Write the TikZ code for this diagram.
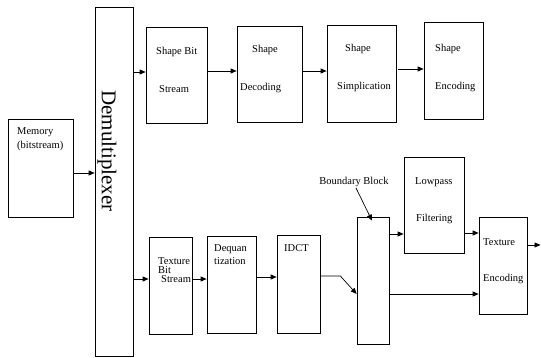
\documentclass[tikz,border=0pt]{standalone}
\usepackage{fontspec}
\setmainfont{Liberation Serif}
\usetikzlibrary{arrows.meta}
\begin{document}
\begin{tikzpicture}[x=1pt,y=-1pt,
  box/.style={draw=black,line width=0.7pt,inner sep=0pt,minimum width=#1},
  lbl/.style={inner sep=0pt,anchor=west,font=\fontsize{10.5}{11}\selectfont},
  arr/.style={line width=0.7pt,-{Triangle[length=6pt,width=5pt]}}]
\useasboundingbox (0,0) rectangle (541,358);
% boxes
\node[box=38pt,minimum height=349pt] (demux) at (114,181.5) {};
\node[box=65pt,minimum height=98pt] (mem) at (40.5,168) {};
\node[box=61pt,minimum height=96pt] (sbs) at (176.5,75) {};
\node[box=65pt,minimum height=96pt] (sdec) at (269.5,74) {};
\node[box=69pt,minimum height=97pt] (ssim) at (361.5,73.5) {};
\node[box=59pt,minimum height=97pt] (senc) at (453.5,70.5) {};
\node[box=43pt,minimum height=97pt] (tbs) at (170.5,285.5) {};
\node[box=49pt,minimum height=97pt] (deq) at (231.5,284.5) {};
\node[box=43pt,minimum height=98pt] (idct) at (298.5,284) {};
\node[box=32pt,minimum height=127pt] (bb) at (373,280.5) {};
\node[box=60pt,minimum height=96pt] (lp) at (434,205) {};
\node[box=48pt,minimum height=97pt] (tenc) at (503,265.5) {};
% texts
\node[inner sep=0pt,rotate=-90,font=\fontsize{21}{21}\selectfont] (tdemux) at (107,151) {Demultiplexer};
\node[lbl] (tmem1) at (17,132) {Memory};
\node[lbl] (tmem2) at (17,146) {(bitstream)};
\node[lbl] (tsbs1) at (156,52) {Shape Bit};
\node[lbl] (tsbs2) at (159,89) {Stream};
\node[lbl] (tsdec1) at (252,50) {Shape};
\node[lbl] (tsdec2) at (240,88) {Decoding};
\node[lbl] (tssim1) at (345,49) {Shape};
\node[lbl] (tssim2) at (337,87) {Simplication};
\node[lbl] (tsenc1) at (435,49) {Shape};
\node[lbl] (tsenc2) at (435,87) {Encoding};
\node[lbl] (ttbs1) at (158,261) {Texture};
\node[lbl] (ttbs2) at (158,270) {Bit};
\node[lbl] (ttbs3) at (161,279) {Stream};
\node[lbl] (tdeq1) at (214,249) {Dequan};
\node[lbl] (tdeq2) at (214,261) {tization};
\node[lbl] (tidct) at (284,248) {IDCT};
\node[lbl,anchor=center] (tbb) at (354,182) {Boundary Block};
\node[lbl] (tlp1) at (415,182) {Lowpass};
\node[lbl] (tlp2) at (416,219) {Filtering};
\node[lbl] (ttenc1) at (483,242) {Texture};
\node[lbl] (ttenc2) at (483,279) {Encoding};
% helper coordinates
\path ([yshift=-5pt]mem.east) coordinate (p1);
\path ([yshift=3pt]sbs.west) coordinate (p2);
\path ([yshift=4pt]sbs.east) coordinate (p3);
\path ([yshift=3pt]sdec.east) coordinate (p4);
\path ([yshift=4.5pt]ssim.east) coordinate (p5);
\path ([yshift=6.5pt]tbs.west) coordinate (p6);
\path ([yshift=6.5pt]tbs.east) coordinate (p7);
\path ([yshift=7.5pt]deq.east) coordinate (p8);
\path ([yshift=8pt]idct.east) coordinate (p9);
\path ([xshift=20pt]p9) coordinate (bend);
\path ([yshift=-13.5pt]bb.west) coordinate (p10);
\path ([yshift=-29pt]lp.west) coordinate (p11);
\path ([yshift=-28pt]lp.east) coordinate (p12);
\path ([yshift=-13.5pt]bb.east) coordinate (p13);
\path ([yshift=20.5pt]tenc.east) coordinate (p14);
\coordinate (out) at (540.5,245);
\path ([xshift=-1pt,yshift=-4pt]bb.north) coordinate (bbtop);
% connectors
\draw[arr] (p1) -- (p1 -| demux.west);
\draw[arr] (demux.east |- p2) -- (p2);
\draw[arr] (p3) -- (p3 -| sdec.west);
\draw[arr] (p4) -- (p4 -| ssim.west);
\draw[arr] ([xshift=2pt]p5) -- (p5 -| senc.west);
\draw[arr] (demux.east |- p6) -- (p6);
\draw[arr] (p7) -- (p7 -| deq.west);
\draw[arr] (p8) -- (p8 -| idct.west);
\draw[arr] (p9) -- (bend) -- (p10);
\draw[arr] ([xshift=2pt,yshift=-1pt]tbb.south) -- (bbtop);
\draw[arr] (bb.east |- p11) -- (p11);
\draw[arr] (p12) -- (p12 -| tenc.west);
\draw[arr] (p13) -- (p13 -| tenc.west);
\draw[arr] (p14) -- (out);
\end{tikzpicture}
\end{document}
